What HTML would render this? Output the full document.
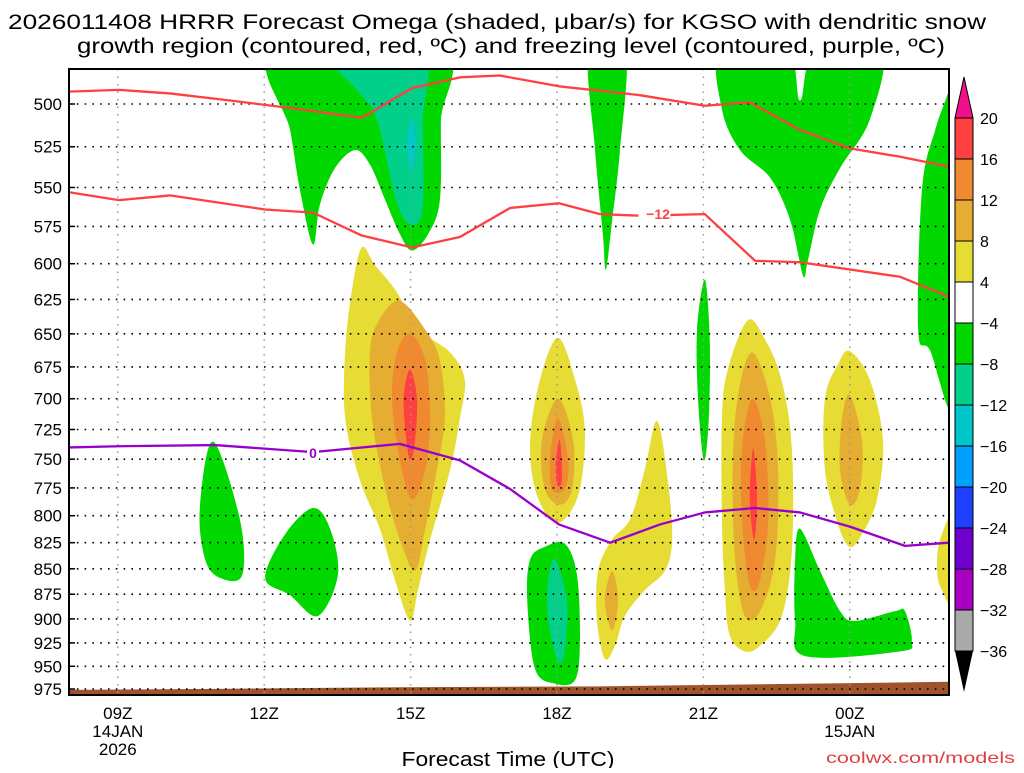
<!DOCTYPE html>
<html><head><meta charset="utf-8"><style>
body{margin:0;background:#fff;}
svg text{font-family:"Liberation Sans",sans-serif;}
</style></head><body>
<svg id="chart" width="1024" height="768" xmlns="http://www.w3.org/2000/svg">
<text x="497" y="29" font-size="21" text-anchor="middle" textLength="978" lengthAdjust="spacingAndGlyphs">2026011408 HRRR Forecast Omega (shaded, μbar/s) for KGSO with dendritic snow</text>
<text x="511" y="53" font-size="21" text-anchor="middle" textLength="868" lengthAdjust="spacingAndGlyphs">growth region (contoured, red, ºC) and freezing level (contoured, purple, ºC)</text>
<g id="plot"></g>
<text x="508" y="766" font-size="20" text-anchor="middle" textLength="213" lengthAdjust="spacingAndGlyphs">Forecast Time (UTC)</text>
<text x="1015" y="763" font-size="16" text-anchor="end" fill="#e04040" textLength="189" lengthAdjust="spacingAndGlyphs">coolwx.com/models</text>
</svg>
<script>
const pressureTicks=[500,525,550,575,600,625,650,675,700,725,750,775,800,825,850,875,900,925,950,975];
const hourTicks=[9,12,15,18,21,24];
const hourLabels=["09Z","12Z","15Z","18Z","21Z","00Z"];
const levels=[20,16,12,8,4,-4,-8,-12,-16,-20,-24,-28,-32,-36];
const levelColors=["#ff4040","#f08a30","#e6ad33","#e6dc33","#ffffff","#00d800","#00d08a","#00c8c8","#00a0ff","#2040ff","#7000d0","#a800c0","#aaaaaa"];
// shaded omega regions: [hour, hPa]
const greenTop=[[12.2,470],[12.53,515],[12.73,551],[13.0,587],[13.14,561],[13.45,538],[13.86,527],[14.17,536],[14.48,558],[14.78,580],[15.03,591],[15.36,580],[15.6,558],[15.62,510],[15.62,470]];
const tealTop=[[13.3,470],[13.96,494],[14.31,509],[14.72,560],[15.03,574],[15.25,562],[15.25,510],[15.23,470]];
const cyanTop=[[14.95,515],[15.05,509],[15.1,525],[15.03,540],[14.93,528]];
const green19=[[18.66,470],[18.78,527],[18.94,580],[19.0,604],[19.13,571],[19.29,527],[19.4,470]];
const greenBig=[[21.36,470],[21.38,503],[21.75,527],[22.37,544],[22.78,571],[23.04,608],[23.14,598],[23.39,564],[23.8,538],[24.41,509],[24.64,470],[23.3,470],[22.98,498],[22.7,470]];
const greenEdge=[[26.2,470],[26.03,492],[25.75,515],[25.48,551],[25.4,647],[25.64,662],[26.2,700]];
const green21=[[21.03,611],[21.13,654],[21.11,716],[21.01,751],[20.89,700],[20.87,647]];
const green11=[[10.95,735],[11.5,803],[11.55,856],[11.1,859],[10.79,841],[10.68,794]];
const green12=[[13.0,793],[13.35,812],[13.51,856],[13.1,897],[12.53,876],[12.02,859],[12.43,817]];
const green18=[[17.75,829],[18.16,826],[18.41,856],[18.47,923],[18.37,965],[17.96,969],[17.55,953],[17.39,881],[17.45,841]];
const teal18=[[17.96,841],[18.2,881],[18.16,934],[18.02,945],[17.82,902],[17.82,861]];
const green23=[[22.98,812],[23.39,852],[23.8,892],[24.11,902],[24.93,892],[25.13,892],[25.27,923],[25.03,934],[23.08,939],[22.88,902],[22.88,841]];
const yellowA=[[14.0,589],[14.27,601],[14.68,618],[15.19,647],[15.81,664],[16.11,685],[16.01,716],[15.81,759],[15.4,822],[15.15,871],[14.99,902],[14.68,861],[14.37,812],[13.96,768],[13.66,716],[13.66,662],[13.8,618]];
const dyA=[[14.78,626],[15.3,647],[15.6,670],[15.7,716],[15.5,768],[15.3,812],[15.09,852],[14.78,822],[14.48,776],[14.21,716],[14.17,662],[14.37,639]];
const orA=[[14.99,650],[15.3,670],[15.4,716],[15.3,759],[15.03,785],[14.78,751],[14.62,700],[14.72,664]];
const redA=[[14.99,677],[15.13,700],[15.09,734],[14.99,751],[14.89,725],[14.86,697]];
const yellowB=[[18.02,653],[18.37,685],[18.57,725],[18.47,776],[18.16,803],[17.86,803],[17.55,776],[17.45,734],[17.65,685]];
const dyB=[[18.02,700],[18.33,734],[18.31,776],[18.06,790],[17.75,776],[17.69,734]];
const orB=[[18.02,716],[18.23,751],[18.16,776],[17.9,776],[17.86,748]];
const redB=[[18.06,734],[18.1,768],[18.0,772],[17.98,751]];
const yellowC=[[20.05,718],[20.27,768],[20.36,822],[20.21,852],[19.8,871],[19.39,897],[19.19,928],[18.98,942],[18.82,902],[18.84,852],[19.13,822],[19.5,803],[19.8,759]];
const dyC=[[19.13,852],[19.25,881],[19.13,912],[18.98,881]];
const yellowD=[[21.91,640],[22.26,654],[22.57,681],[22.78,725],[22.84,785],[22.78,852],[22.57,902],[22.16,928],[21.85,934],[21.54,917],[21.44,871],[21.38,803],[21.38,716],[21.5,677]];
const dyD=[[22.0,664],[22.37,700],[22.53,759],[22.47,841],[22.16,892],[21.85,897],[21.65,841],[21.6,759],[21.71,697]];
const orD=[[22.0,700],[22.26,734],[22.33,803],[22.16,861],[21.95,866],[21.79,803],[21.79,741]];
const redD=[[22.02,741],[22.1,785],[22.04,822],[21.95,785]];
const yellowE=[[24.0,663],[24.41,685],[24.68,734],[24.56,785],[24.25,817],[24.0,829],[23.76,808],[23.49,759],[23.49,700],[23.76,673]];
const dyE=[[24.0,697],[24.25,734],[24.21,776],[24.0,790],[23.8,759],[23.84,716]];
const yellowF=[[26.2,795],[25.85,822],[25.79,852],[25.89,871],[26.2,890]];
// contours
const lineHours=[8,9.02,10.07,11.3,12.73,14.0,15.03,16.01,16.83,18.04,19.7,21.03,21.95,22.98,24.0,25.03,26.03];
const dgzUpper=[493,492,494,498,503,508,491,485,484,490,495,501,499,515,526,531,537];
const dgzHours=[8,9.02,10.07,12.02,13.0,14.0,15.03,16.01,17.04,18.04,18.88,19.7,21.03,22.06,22.98,25.03,26.03];
const dgzLower=[553,558,555,564,566,581,589,582,563,560,567,568,567,598,599,609,623];
const frzHours=[8,9.02,10.99,13.0,14.78,16.01,17.04,18.04,19.09,20.11,21.03,22.06,22.98,24.0,25.13,26.03];
const frzLevel=[740,739,738,744,737,751,776,808,825,808,797,793,797,810,828,825];
const terrainHours=[8,10.68,14.78,18.88,26.03];
const terrainP=[976,975,973,972,967];

const NS="http://www.w3.org/2000/svg";
const L=69,R=949,T=69,B=695;
const xS=h=>L+(h-8)*48.8;
const yS=p=>104+876*Math.log(p/500);
const svg=document.getElementById('plot');
function mk(tag,attrs,parent){const e=document.createElementNS(NS,tag);for(const k in attrs)e.setAttribute(k,attrs[k]);(parent||svg).appendChild(e);return e;}
const cp=mk('clipPath',{id:'pc'});
mk('rect',{x:L,y:T,width:R-L,height:B-T},cp);
const g=mk('g',{'clip-path':'url(#pc)'});
function smooth(pts){const n=pts.length;let d=`M${pts[0][0]},${pts[0][1]}`;
 for(let i=0;i<n;i++){const p0=pts[(i-1+n)%n],p1=pts[i],p2=pts[(i+1)%n],p3=pts[(i+2)%n];
 d+=` C${p1[0]+(p2[0]-p0[0])/6},${p1[1]+(p2[1]-p0[1])/6} ${p2[0]-(p3[0]-p1[0])/6},${p2[1]-(p3[1]-p1[1])/6} ${p2[0]},${p2[1]}`;}
 return d+'Z';}
function blob(arr,color,name){const pts=arr.map(a=>[xS(a[0]),yS(a[1])]);
 const e=mk('path',{d:smooth(pts),fill:color},g);
 
 }
const GR=levelColors[5],TE=levelColors[6],CY=levelColors[7],YE=levelColors[3],DY=levelColors[2],OR=levelColors[1],RD=levelColors[0];
blob(greenTop,GR,'omega-region-green');blob(tealTop,TE,'omega-region-teal');blob(cyanTop,CY,'omega-region-cyan');
blob(green19,GR,'omega-region-green');blob(greenBig,GR,'omega-region-green');blob(greenEdge,GR,'omega-region-green');
blob(green21,GR,'omega-region-green');blob(green11,GR,'omega-region-green');blob(green12,GR,'omega-region-green');
blob(green18,GR,'omega-region-green');blob(teal18,TE,'omega-region-teal');blob(green23,GR,'omega-region-green');
blob(yellowA,YE,'omega-region-yellow');blob(dyA,DY,'omega-region-gold');blob(orA,OR,'omega-region-orange');blob(redA,RD,'omega-region-red');
blob(yellowB,YE,'omega-region-yellow');blob(dyB,DY,'omega-region-gold');blob(orB,OR,'omega-region-orange');blob(redB,RD,'omega-region-red');
blob(yellowC,YE,'omega-region-yellow');blob(dyC,DY,'omega-region-gold');
blob(yellowD,YE,'omega-region-yellow');blob(dyD,DY,'omega-region-gold');blob(orD,OR,'omega-region-orange');blob(redD,RD,'omega-region-red');
blob(yellowE,YE,'omega-region-yellow');blob(dyE,DY,'omega-region-gold');blob(yellowF,YE,'omega-region-yellow');
// terrain
{let d=`M${xS(terrainHours[0])},${B}`;terrainHours.forEach((h,i)=>d+=` L${xS(h)},${yS(terrainP[i])}`);d+=` L${xS(terrainHours[terrainHours.length-1])},${B}Z`;
const e=mk('path',{d,fill:'#a0522d'},g);}
// grid
pressureTicks.forEach(p=>{const e=mk('line',{x1:L,x2:R,y1:yS(p),y2:yS(p),stroke:'#000','stroke-width':1.6,'stroke-dasharray':'1.6 6.2'},g);
 
 const t=mk('text',{x:62,y:yS(p)+6,'font-size':17,'text-anchor':'end'});t.textContent=p;
 
 mk('line',{x1:L,x2:L+6,y1:yS(p),y2:yS(p),stroke:'#000','stroke-width':1.5});});
hourTicks.forEach((h,i)=>{const e=mk('line',{x1:xS(h),x2:xS(h),y1:T,y2:B,stroke:'#999','stroke-width':1.5,'stroke-dasharray':'1.5 6'},g);
 
 const t=mk('text',{x:xS(h),y:719,'font-size':17,'text-anchor':'middle'});t.textContent=hourLabels[i];
 });
[[9,'14JAN',737],[9,'2026',755],[24,'15JAN',737]].forEach(a=>{const t=mk('text',{x:xS(a[0]),y:a[2],'font-size':17,'text-anchor':'middle'});t.textContent=a[1];
 });
function line(hs,ps,color,name){const d=hs.map((h,i)=>(i?'L':'M')+xS(h)+','+yS(ps[i])).join(' ');
 const e=mk('path',{d,fill:'none',stroke:color,'stroke-width':2.3,'stroke-linejoin':'round'},g);
 }
line(lineHours,dgzUpper,'#ff4040','dgz-upper-contour');
line(dgzHours,dgzLower,'#ff4040','dgz-lower-contour');
line(frzHours,frzLevel,'#9900cc','freezing-level-contour');
{mk('rect',{x:xS(19.75)-4,y:yS(567)-9,width:32,height:16,fill:'#fff'});
 const t=mk('text',{x:xS(20.07),y:yS(567)+5,'font-size':14,'font-weight':'bold','text-anchor':'middle',fill:'#ff4040'});t.textContent='−12';
 
 mk('rect',{x:xS(13)-6,y:yS(744)-8,width:12,height:16,fill:'#fff'});
 const t2=mk('text',{x:xS(13),y:yS(744)+6,'font-size':14,'font-weight':'bold','text-anchor':'middle',fill:'#9900cc'});t2.textContent='0';
 }
const fr=mk('rect',{x:L,y:T,width:R-L,height:B-T,fill:'none',stroke:'#000','stroke-width':2});

// colorbar
const cbX=955,cbW=18,cbTop=118,segH=41;
mk('polygon',{points:`${cbX},${cbTop} ${cbX+cbW},${cbTop} ${cbX+cbW/2},${cbTop-41}`,fill:'#f0108a',stroke:'#000','stroke-width':1});
levelColors.forEach((c,i)=>{const e=mk('rect',{x:cbX,y:cbTop+i*segH,width:cbW,height:segH,fill:c,stroke:'#000','stroke-width':1});
 });
const cbBot=cbTop+levelColors.length*segH;
mk('polygon',{points:`${cbX},${cbBot} ${cbX+cbW},${cbBot} ${cbX+cbW/2},${cbBot+41}`,fill:'#000'});
levels.forEach((v,i)=>{const t=mk('text',{x:980,y:cbTop+i*segH+6,'font-size':16});t.textContent=v<0?'−'+(-v):v;
 });
</script>
</body></html>
